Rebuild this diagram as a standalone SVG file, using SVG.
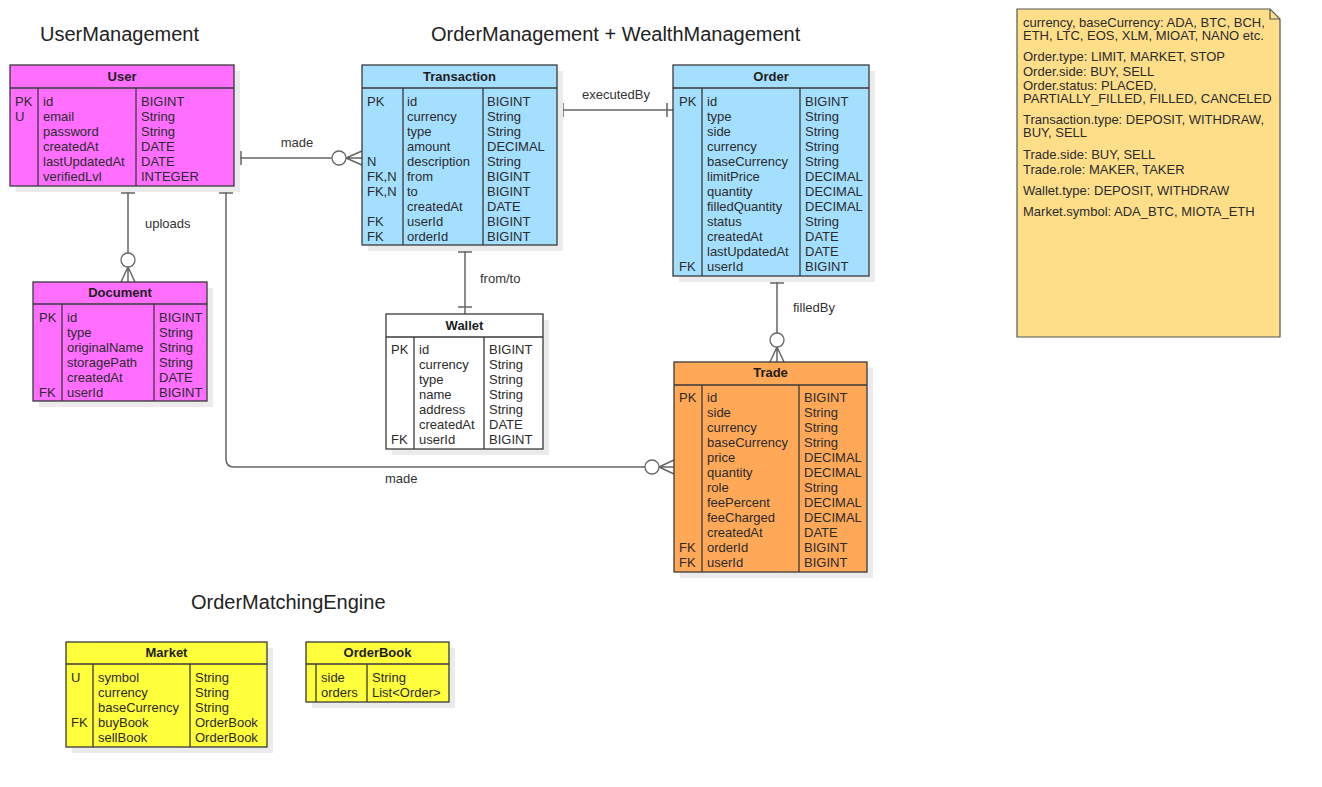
<svg xmlns="http://www.w3.org/2000/svg" width="1322" height="787" viewBox="0 0 1322 787">
<style>
text{font-family:"Liberation Sans",Arial,sans-serif;font-size:13px;fill:#2b2b2b}
.title{font-size:20px;fill:#222}
.hdr{font-weight:bold;text-anchor:middle;fill:#1e1e1e}
.box{stroke:#3a3a3a;stroke-width:1.3}
.sep{stroke:#3a3a3a;stroke-width:1.3;fill:none}
.sh{fill:#ebebeb}
.mag{fill:#FF6EFF}
.blu{fill:#A5DFFF}
.wht{fill:#FFFFFF}
.org{fill:#FFA858}
.yel{fill:#FFFF3C}
.con{stroke:#666;stroke-width:1.5;fill:none}
.cir{stroke:#666;stroke-width:1.3;fill:#fff}
.lbl{fill:#333}
</style>
<rect width="1322" height="787" fill="#fff"/>

<text class="title" x="40" y="41">UserManagement</text>
<text class="title" x="431" y="41">OrderManagement + WealthManagement</text>
<text class="title" x="191" y="609">OrderMatchingEngine</text>

<g id="connectors">
  <!-- User -> Transaction made -->
  <path class="con" d="M234,158 H332 M241,151 V165 M346,158 L362,151 M346,158 L362,158 M346,158 L362,165"/>
  <circle class="cir" cx="339" cy="158" r="7"/>
  <text class="lbl" x="297" y="147" text-anchor="middle">made</text>
  <!-- User -> Document uploads -->
  <path class="con" d="M128,186 V253 M121,193 H135 M128,267 L121,282 M128,267 L128,282 M128,267 L135,282"/>
  <circle class="cir" cx="128" cy="260" r="7"/>
  <text class="lbl" x="145" y="228">uploads</text>
  <!-- User -> Trade made -->
  <path class="con" d="M226,186 V459 Q226,467 234,467 H645 M219,193 H233 M659,467 L674,460 M659,467 L674,467 M659,467 L674,474"/>
  <circle class="cir" cx="652" cy="467" r="7"/>
  <text class="lbl" x="385" y="483">made</text>
  <!-- Transaction -> Order executedBy -->
  <path class="con" d="M557,110 H673 M563,103 V117 M667,103 V117"/>
  <text class="lbl" x="582" y="99">executedBy</text>
  <!-- Transaction -> Wallet from/to -->
  <path class="con" d="M465,245 V314 M458,252 H472 M458,307 H472"/>
  <text class="lbl" x="480" y="283">from/to</text>
  <!-- Order -> Trade filledBy -->
  <path class="con" d="M777,276 V333 M770,283 H784 M777,347 L770,362 M777,347 L777,362 M777,347 L784,362"/>
  <circle class="cir" cx="777" cy="340" r="7"/>
  <text class="lbl" x="793" y="312">filledBy</text>
</g>

<g id="User">
  <rect class="sh" x="16" y="71" width="224" height="121"/>
  <rect class="box mag" x="10" y="65" width="224" height="121"/>
  <path class="sep" d="M10,88 H234 M38,88 V186 M136,88 V186"/>
  <text class="hdr" x="122" y="81">User</text>
  <text x="15" y="105.5">PK</text><text x="15" y="120.5">U</text>
  <text x="43" y="105.5">id</text><text x="43" y="120.5">email</text><text x="43" y="135.5">password</text><text x="43" y="150.5">createdAt</text><text x="43" y="165.5">lastUpdatedAt</text><text x="43" y="180.5">verifiedLvl</text>
  <text x="141" y="105.5">BIGINT</text><text x="141" y="120.5">String</text><text x="141" y="135.5">String</text><text x="141" y="150.5">DATE</text><text x="141" y="165.5">DATE</text><text x="141" y="180.5">INTEGER</text>
</g>

<g id="Document">
  <rect class="sh" x="39" y="288" width="174" height="119"/>
  <rect class="box mag" x="33" y="282" width="174" height="119"/>
  <path class="sep" d="M33,304 H207 M62,304 V401 M154,304 V401"/>
  <text class="hdr" x="120" y="297">Document</text>
  <text x="39" y="321.5">PK</text><text x="39" y="396.5">FK</text>
  <text x="67" y="321.5">id</text><text x="67" y="336.5">type</text><text x="67" y="351.5">originalName</text><text x="67" y="366.5">storagePath</text><text x="67" y="381.5">createdAt</text><text x="67" y="396.5">userId</text>
  <text x="159" y="321.5">BIGINT</text><text x="159" y="336.5">String</text><text x="159" y="351.5">String</text><text x="159" y="366.5">String</text><text x="159" y="381.5">DATE</text><text x="159" y="396.5">BIGINT</text>
</g>

<g id="Transaction">
  <rect class="sh" x="368" y="71" width="195" height="180"/>
  <rect class="box blu" x="362" y="65" width="195" height="180"/>
  <path class="sep" d="M362,88 H557 M403,88 V245 M483,88 V245"/>
  <text class="hdr" x="459.5" y="81">Transaction</text>
  <text x="367" y="105.5">PK</text><text x="367" y="165.5">N</text><text x="367" y="180.5">FK,N</text><text x="367" y="195.5">FK,N</text><text x="367" y="225.5">FK</text><text x="367" y="240.5">FK</text>
  <text x="407" y="105.5">id</text><text x="407" y="120.5">currency</text><text x="407" y="135.5">type</text><text x="407" y="150.5">amount</text><text x="407" y="165.5">description</text><text x="407" y="180.5">from</text><text x="407" y="195.5">to</text><text x="407" y="210.5">createdAt</text><text x="407" y="225.5">userId</text><text x="407" y="240.5">orderId</text>
  <text x="487" y="105.5">BIGINT</text><text x="487" y="120.5">String</text><text x="487" y="135.5">String</text><text x="487" y="150.5">DECIMAL</text><text x="487" y="165.5">String</text><text x="487" y="180.5">BIGINT</text><text x="487" y="195.5">BIGINT</text><text x="487" y="210.5">DATE</text><text x="487" y="225.5">BIGINT</text><text x="487" y="240.5">BIGINT</text>
</g>

<g id="Order">
  <rect class="sh" x="679" y="71" width="196" height="211"/>
  <rect class="box blu" x="673" y="65" width="196" height="211"/>
  <path class="sep" d="M673,88 H869 M702,88 V276 M800,88 V276"/>
  <text class="hdr" x="771" y="81">Order</text>
  <text x="679" y="105.5">PK</text><text x="679" y="270.5">FK</text>
  <text x="707" y="105.5">id</text><text x="707" y="120.5">type</text><text x="707" y="135.5">side</text><text x="707" y="150.5">currency</text><text x="707" y="165.5">baseCurrency</text><text x="707" y="180.5">limitPrice</text><text x="707" y="195.5">quantity</text><text x="707" y="210.5">filledQuantity</text><text x="707" y="225.5">status</text><text x="707" y="240.5">createdAt</text><text x="707" y="255.5">lastUpdatedAt</text><text x="707" y="270.5">userId</text>
  <text x="805" y="105.5">BIGINT</text><text x="805" y="120.5">String</text><text x="805" y="135.5">String</text><text x="805" y="150.5">String</text><text x="805" y="165.5">String</text><text x="805" y="180.5">DECIMAL</text><text x="805" y="195.5">DECIMAL</text><text x="805" y="210.5">DECIMAL</text><text x="805" y="225.5">String</text><text x="805" y="240.5">DATE</text><text x="805" y="255.5">DATE</text><text x="805" y="270.5">BIGINT</text>
</g>

<g id="Wallet">
  <rect class="sh" x="392" y="320" width="157" height="135"/>
  <rect class="box wht" x="386" y="314" width="157" height="135"/>
  <path class="sep" d="M386,337 H543 M414,337 V449 M484,337 V449"/>
  <text class="hdr" x="464.5" y="330">Wallet</text>
  <text x="391" y="353.5">PK</text><text x="391" y="443.5">FK</text>
  <text x="419" y="353.5">id</text><text x="419" y="368.5">currency</text><text x="419" y="383.5">type</text><text x="419" y="398.5">name</text><text x="419" y="413.5">address</text><text x="419" y="428.5">createdAt</text><text x="419" y="443.5">userId</text>
  <text x="489" y="353.5">BIGINT</text><text x="489" y="368.5">String</text><text x="489" y="383.5">String</text><text x="489" y="398.5">String</text><text x="489" y="413.5">String</text><text x="489" y="428.5">DATE</text><text x="489" y="443.5">BIGINT</text>
</g>

<g id="Trade">
  <rect class="sh" x="680" y="368" width="193" height="210"/>
  <rect class="box org" x="674" y="362" width="193" height="210"/>
  <path class="sep" d="M674,385 H867 M702,385 V572 M799,385 V572"/>
  <text class="hdr" x="770.5" y="377">Trade</text>
  <text x="679" y="401.5">PK</text><text x="679" y="551.5">FK</text><text x="679" y="566.5">FK</text>
  <text x="707" y="401.5">id</text><text x="707" y="416.5">side</text><text x="707" y="431.5">currency</text><text x="707" y="446.5">baseCurrency</text><text x="707" y="461.5">price</text><text x="707" y="476.5">quantity</text><text x="707" y="491.5">role</text><text x="707" y="506.5">feePercent</text><text x="707" y="521.5">feeCharged</text><text x="707" y="536.5">createdAt</text><text x="707" y="551.5">orderId</text><text x="707" y="566.5">userId</text>
  <text x="804" y="401.5">BIGINT</text><text x="804" y="416.5">String</text><text x="804" y="431.5">String</text><text x="804" y="446.5">String</text><text x="804" y="461.5">DECIMAL</text><text x="804" y="476.5">DECIMAL</text><text x="804" y="491.5">String</text><text x="804" y="506.5">DECIMAL</text><text x="804" y="521.5">DECIMAL</text><text x="804" y="536.5">DATE</text><text x="804" y="551.5">BIGINT</text><text x="804" y="566.5">BIGINT</text>
</g>

<g id="Market">
  <rect class="sh" x="72" y="648" width="201" height="105"/>
  <rect class="box yel" x="66" y="642" width="201" height="105"/>
  <path class="sep" d="M66,664 H267 M93,664 V747 M190,664 V747"/>
  <text class="hdr" x="166.5" y="657">Market</text>
  <text x="71" y="681.5">U</text><text x="71" y="726.5">FK</text>
  <text x="98" y="681.5">symbol</text><text x="98" y="696.5">currency</text><text x="98" y="711.5">baseCurrency</text><text x="98" y="726.5">buyBook</text><text x="98" y="741.5">sellBook</text>
  <text x="195" y="681.5">String</text><text x="195" y="696.5">String</text><text x="195" y="711.5">String</text><text x="195" y="726.5">OrderBook</text><text x="195" y="741.5">OrderBook</text>
</g>

<g id="OrderBook">
  <rect class="sh" x="312" y="648" width="143" height="60"/>
  <rect class="box yel" x="306" y="642" width="143" height="60"/>
  <path class="sep" d="M306,664 H449 M316,664 V702 M367,664 V702"/>
  <text class="hdr" x="377.5" y="657">OrderBook</text>
  <text x="321" y="681.5">side</text><text x="321" y="696.5">orders</text>
  <text x="372" y="681.5">String</text><text x="372" y="696.5">List&lt;Order&gt;</text>
</g>

<g id="Note">
  <path d="M1017,9 H1270 L1280,19 V337 H1017 Z" fill="#FFDE8A" stroke="#555" stroke-width="1.2"/>
  <path d="M1270,9 V19 H1280" fill="none" stroke="#555" stroke-width="1.2"/>
  <text x="1023" y="27">currency, baseCurrency: ADA, BTC, BCH,</text>
  <text x="1023" y="40">ETH, LTC, EOS, XLM, MIOAT, NANO etc.</text>
  <text x="1023" y="61">Order.type: LIMIT, MARKET, STOP</text>
  <text x="1023" y="76">Order.side: BUY, SELL</text>
  <text x="1023" y="90">Order.status: PLACED,</text>
  <text x="1023" y="103">PARTIALLY_FILLED, FILLED, CANCELED</text>
  <text x="1023" y="124">Transaction.type: DEPOSIT, WITHDRAW,</text>
  <text x="1023" y="137">BUY, SELL</text>
  <text x="1023" y="159">Trade.side: BUY, SELL</text>
  <text x="1023" y="174">Trade.role: MAKER, TAKER</text>
  <text x="1023" y="195">Wallet.type: DEPOSIT, WITHDRAW</text>
  <text x="1023" y="216">Market.symbol: ADA_BTC, MIOTA_ETH</text>
</g>
</svg>
